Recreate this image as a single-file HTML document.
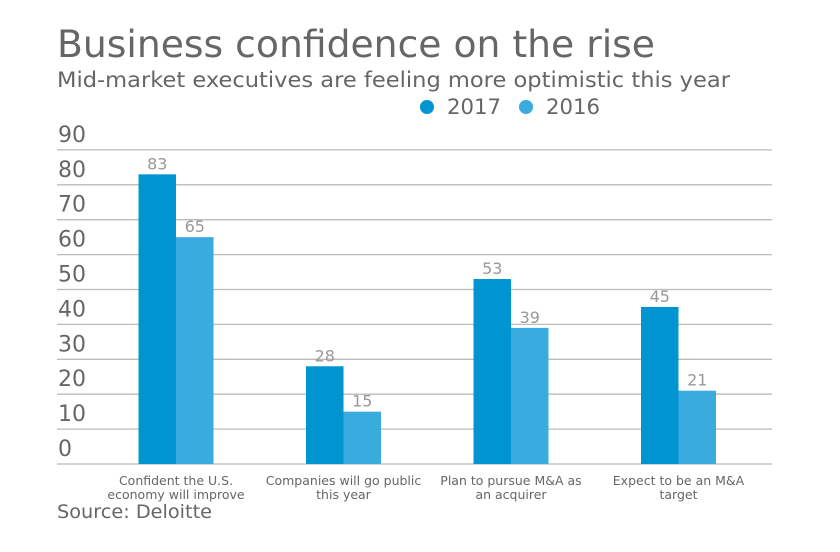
<!DOCTYPE html>
<html><head><meta charset="utf-8"><style>
body{margin:0;background:#fff;}
svg text{font-family:"DejaVu Sans","Liberation Sans",sans-serif;}
</style></head><body>
<svg width="840" height="547" xmlns="http://www.w3.org/2000/svg">
<text x="57" y="57" font-size="37" fill="#666" textLength="598" lengthAdjust="spacingAndGlyphs">Business confidence on the rise</text>
<text x="57" y="87" font-size="21" fill="#666" textLength="673" lengthAdjust="spacingAndGlyphs">Mid-market executives are feeling more optimistic this year</text>
<g>
<circle cx="427" cy="107" r="7" fill="#0095d0"/>
<text x="447" y="114" font-size="21" fill="#666" textLength="54" lengthAdjust="spacingAndGlyphs">2017</text>
<circle cx="526" cy="107" r="7" fill="#3aabdf"/>
<text x="546" y="114" font-size="21" fill="#666" textLength="54" lengthAdjust="spacingAndGlyphs">2016</text>
</g>
<g id="grid"></g>
<g id="bars"></g>
<g id="cats"></g>
<text x="57" y="518" font-size="19" fill="#666" textLength="155" lengthAdjust="spacingAndGlyphs">Source: Deloitte</text>
</svg>
<script>
const categories=[["Confident the U.S.","economy will improve"],["Companies will go public","this year"],["Plan to pursue M&A as","an acquirer"],["Expect to be an M&A","target"]];
const values2017=[83,28,53,45];
const values2016=[65,15,39,21];
const yTicks=[0,10,20,30,40,50,60,70,80,90];
const NS="http://www.w3.org/2000/svg";
const y=v=>464-v*3.49;
const cx=i=>176+i*167.5;
const bw=37.5;
function mk(tag,attrs,parent){const e=document.createElementNS(NS,tag);for(const k in attrs)e.setAttribute(k,attrs[k]);parent.appendChild(e);return e;}
const grid=document.getElementById('grid'),bars=document.getElementById('bars'),cats=document.getElementById('cats');
yTicks.forEach(t=>{
 const l=mk('line',{x1:57,x2:772,y1:y(t),y2:y(t),stroke:'#bbb','stroke-width':1.3},grid);
 
 
 const tx=mk('text',{x:58,y:y(t)-8,'font-size':22,fill:'#666'},grid);
 tx.textContent=t;
 
 
});
categories.forEach((c,i)=>{
 [[values2017[i],'#0095d0',cx(i)-bw],[values2016[i],'#3aabdf',cx(i)]].forEach((s,j)=>{
  const r=mk('rect',{x:s[2],y:y(s[0]),width:bw,height:464-y(s[0]),fill:s[1]},bars);
  
  
  const lb=mk('text',{x:s[2]+bw/2,y:y(s[0])-5,'font-size':16,fill:'#999','text-anchor':'middle'},bars);
  lb.textContent=s[0];
  
  
 });
 c.forEach((line,k)=>{
  const t=mk('text',{x:cx(i),y:485+k*14,'font-size':12.5,fill:'#666','text-anchor':'middle'},cats);
  t.textContent=line;
  
  
 });
});
</script>
</body></html>
